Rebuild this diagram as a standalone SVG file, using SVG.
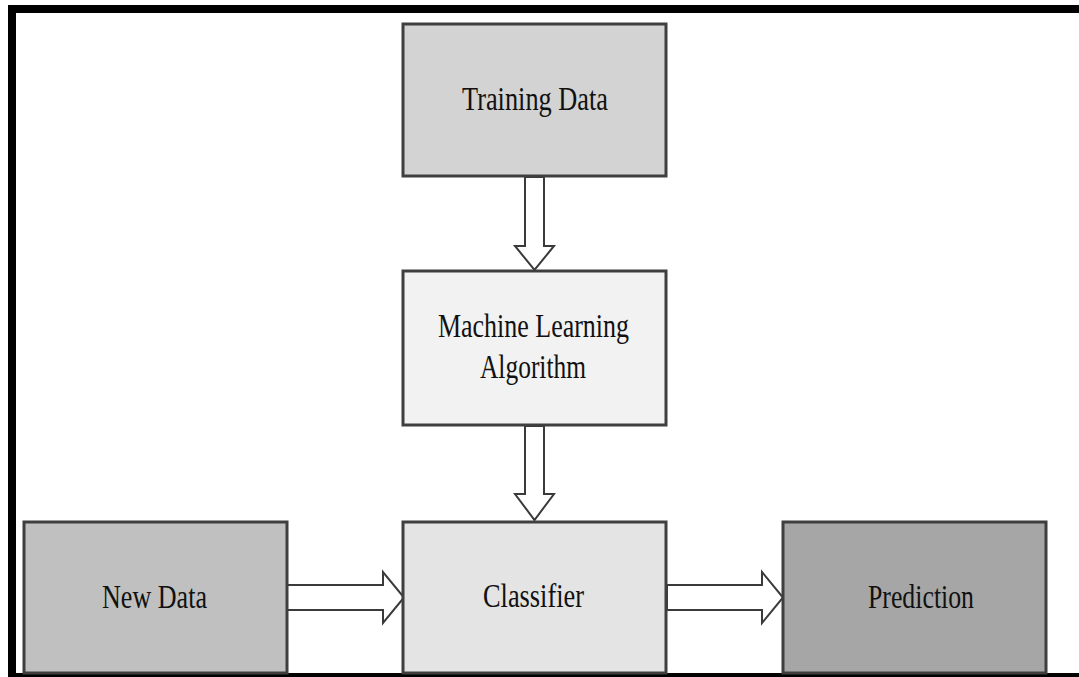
<svg xmlns="http://www.w3.org/2000/svg" width="1079" height="677" viewBox="0 0 1079 677">
  <style>
    .box { stroke: #3f3f3f; stroke-width: 3; }
    .lbl { font-family: "Liberation Serif", "Times New Roman", serif; font-size: 34px; fill: #111; text-anchor: middle; }
    .arrow { fill: #ffffff; stroke: #3a3a3a; stroke-width: 2; stroke-linejoin: miter; }
  </style>
  <rect width="1079" height="677" fill="#ffffff"/>

  <!-- frame -->
  <g id="frame" fill="#000000">
    <rect x="8" y="5" width="1071" height="8"/>
    <rect x="8" y="5" width="8" height="672"/>
    <rect x="8" y="673" width="1071" height="4"/>
  </g>

  <!-- connectors -->
  <g id="connectors">
    <polygon class="arrow" points="525,177 544,177 544,246 554,246 534.5,270 515,246 525,246"/>
    <polygon class="arrow" points="525,426 544,426 544,494 554,494 534.5,520 515,494 525,494"/>
    <polygon class="arrow" points="287,585 383,585 383,572 404,597.5 383,623 383,610 287,610"/>
    <polygon class="arrow" points="667,585 762,585 762,572 783,597.5 762,623 762,610 667,610"/>
  </g>

  <g id="training-data">
    <rect class="box" x="403" y="24" width="263" height="152" fill="#d3d3d3"/>
    <text class="lbl" x="535" y="110" textLength="146" lengthAdjust="spacingAndGlyphs">Training Data</text>
  </g>

  <g id="ml-algorithm">
    <rect class="box" x="403" y="271" width="263" height="154" fill="#f2f2f2"/>
    <text class="lbl" x="533.5" y="337" textLength="191" lengthAdjust="spacingAndGlyphs">Machine Learning</text>
    <text class="lbl" x="533" y="378" textLength="106" lengthAdjust="spacingAndGlyphs">Algorithm</text>
  </g>

  <g id="new-data">
    <rect class="box" x="24" y="522" width="263" height="151" fill="#c0c0c0"/>
    <text class="lbl" x="154.5" y="608" textLength="105" lengthAdjust="spacingAndGlyphs">New Data</text>
  </g>

  <g id="classifier">
    <rect class="box" x="403" y="522" width="263" height="151" fill="#e4e4e4"/>
    <text class="lbl" x="533.5" y="607" textLength="101" lengthAdjust="spacingAndGlyphs">Classifier</text>
  </g>

  <g id="prediction">
    <rect class="box" x="783" y="522" width="263" height="151" fill="#a6a6a6"/>
    <text class="lbl" x="921" y="608" textLength="106" lengthAdjust="spacingAndGlyphs">Prediction</text>
  </g>
</svg>
